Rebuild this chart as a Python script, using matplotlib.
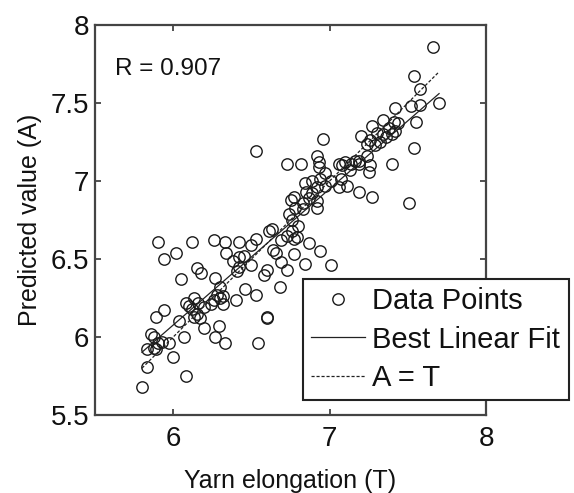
import numpy as np
import matplotlib
matplotlib.use("Agg")
import matplotlib.pyplot as plt

plt.rcParams['font.family'] = ['Liberation Sans', 'DejaVu Sans']

# yarn elongation targets (T) and network predictions (A)
T = [5.80, 6.08, 5.83, 5.83, 5.89, 6.00, 5.97, 5.86, 5.88, 5.90, 5.93, 5.88,
     6.07, 5.94, 5.89, 5.90, 5.94, 6.02, 6.12, 6.05, 6.15, 6.18, 6.04, 6.08,
     6.13, 6.12, 6.15, 6.17, 6.13, 6.20, 6.10, 6.16, 6.20, 6.29, 6.27, 6.33,
     6.24, 6.32, 6.28, 6.30, 6.26,
     6.26, 6.33, 6.42, 6.53, 6.61, 6.50, 6.34, 6.42, 6.38, 6.41, 6.27, 6.50,
     6.58, 6.60, 6.64, 6.66, 6.69, 6.73, 6.77, 6.84, 6.68, 6.46, 6.53, 6.40,
     6.32, 6.30, 6.54, 6.60, 6.60, 6.42, 6.45,
     6.53, 6.73, 6.82, 6.96, 6.92, 6.93, 6.93, 6.97, 7.06, 7.08, 7.10, 7.14,
     7.13, 7.16, 7.19, 7.24, 7.26, 7.25, 7.40, 7.19, 7.27, 7.51, 6.84, 6.89,
     6.94, 6.97, 6.92, 6.85, 6.89, 7.01, 7.07, 7.11, 7.06, 6.75, 6.78, 6.77,
     6.83, 6.87, 6.92, 6.92, 6.83, 6.74, 6.76, 6.80, 6.76, 6.73, 6.77, 6.69,
     6.87, 6.94, 6.63, 7.01, 6.79,
     7.20, 7.27, 7.30, 7.34, 7.26, 7.32, 7.29, 7.24, 7.34, 7.41, 7.44, 7.38,
     7.42, 7.36, 7.40, 7.66, 7.54, 7.58, 7.70, 7.52, 7.58, 7.55, 7.54, 7.42,
     7.19]
A = [5.68, 5.75, 5.81, 5.92, 5.92, 5.87, 5.96, 6.02, 6.00, 5.96, 5.97, 5.93,
     6.00, 6.17, 6.13, 6.61, 6.50, 6.54, 6.61, 6.37, 6.44, 6.41, 6.10, 6.22,
     6.25, 6.18, 6.15, 6.12, 6.13, 6.19, 6.20, 6.22, 6.06, 6.07, 6.00, 5.96,
     6.21, 6.21, 6.27, 6.25, 6.24,
     6.62, 6.61, 6.61, 6.63, 6.68, 6.59, 6.54, 6.51, 6.49, 6.42, 6.38, 6.46,
     6.40, 6.43, 6.56, 6.54, 6.48, 6.43, 6.53, 6.47, 6.32, 6.31, 6.27, 6.24,
     6.26, 6.32, 5.96, 6.13, 6.12, 6.45, 6.52,
     7.19, 7.11, 7.11, 7.27, 7.16, 7.12, 7.09, 7.05, 7.11, 7.10, 7.12, 7.11,
     7.07, 7.13, 7.11, 7.16, 7.10, 7.06, 7.11, 6.93, 6.90, 6.86, 6.99, 7.00,
     7.01, 6.97, 6.96, 6.93, 6.92, 7.00, 7.01, 6.97, 6.96, 6.88, 6.83, 6.90,
     6.86, 6.89, 6.87, 6.83, 6.82, 6.79, 6.75, 6.71, 6.68, 6.65, 6.63, 6.62,
     6.60, 6.55, 6.69, 6.46, 6.64,
     7.29, 7.35, 7.31, 7.30, 7.26, 7.25, 7.23, 7.24, 7.39, 7.38, 7.37, 7.34,
     7.32, 7.28, 7.30, 7.86, 7.67, 7.59, 7.50, 7.48, 7.49, 7.38, 7.21, 7.47,
     7.13]
r_text = 'R = 0.907'

T = np.array(T)
A = np.array(A)
m, b = np.polyfit(T, A, 1)
xl = np.array([T.min(), T.max()])

fig = plt.figure(figsize=(5.74, 4.93), dpi=100)
ax = fig.add_axes([0.1655, 0.1582, 0.6812, 0.7911])

ax.plot(T, A, 'o', mfc='none', mec='#1a1a1a', ms=8.2, mew=1.0, label='Data Points')
ax.plot(xl, m * xl + b, '-', color='#222222', lw=0.9, label='Best Linear Fit')
ax.plot(xl, xl, '--', color='#222222', lw=0.9, dashes=(2.5, 1.5), label='A = T')

ax.set_xlim(5.5, 8)
ax.set_ylim(5.5, 8)
ax.set_xticks([6, 7, 8])
ax.set_yticks([5.5, 6, 6.5, 7, 7.5, 8])
ax.set_yticklabels(['5.5', '6', '6.5', '7', '7.5', '8'])
ax.tick_params(direction='in', length=4, width=1.2, top=True, right=True,
               labelsize=20, colors='#333333', labelcolor='#111111')
ax.tick_params(axis='x', pad=8)
ax.tick_params(axis='y', pad=4)
for s in ax.spines.values():
    s.set_color('#444444')
    s.set_linewidth(1.6)

ax.set_xlabel('Yarn elongation (T)', fontsize=18, color='#111111', labelpad=12)
ax.set_ylabel('Predicted value (A)', fontsize=18, color='#111111', labelpad=6)

ax.text(5.63, 7.79, r_text, fontsize=17.5, color='#111111', va='top', ha='left')

leg = ax.legend(loc='upper left', bbox_to_anchor=(0.528, 0.434),
                bbox_transform=fig.transFigure, fontsize=21, numpoints=1,
                frameon=True, fancybox=False, shadow=False, borderaxespad=0,
                labelspacing=0.36, handlelength=1.85, handletextpad=0.25,
                borderpad=0.28)
leg.get_frame().set_edgecolor('#222222')
leg.get_frame().set_linewidth(1.5)
leg.get_frame().set_alpha(1)
for t in leg.get_texts():
    t.set_color('#111111')

fig.savefig('out.png', dpi=100)
